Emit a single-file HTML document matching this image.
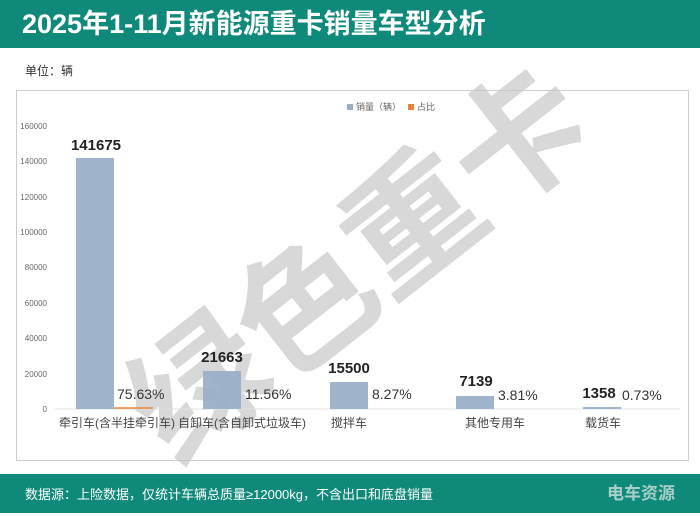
<!DOCTYPE html>
<html><head><meta charset="utf-8"><style>
body{margin:0;width:700px;height:513px;position:relative;background:#fff;font-family:"Liberation Sans","Noto Sans CJK SC",sans-serif;overflow:hidden}
.hdr{position:absolute;left:0;top:0;width:700px;height:48px;background:#0f8a7a;color:#fff;font-weight:bold;font-size:27px;line-height:48px;padding-left:22px;box-sizing:border-box}
.ftr{position:absolute;left:0;top:474px;width:700px;height:39px;background:#0f8a7a;color:#fff;font-size:13px;line-height:42px;padding-left:25px;box-sizing:border-box}
</style></head><body>
<div class="hdr">2025年1-11月新能源重卡销量车型分析</div>
<div style="position:absolute;left:25px;top:62px;font-size:12px;color:#333">单位：辆</div>
<div style="position:absolute;left:16px;top:90px;width:673px;height:371px;border:1px solid #ccc;box-sizing:border-box"></div>
<svg width="700" height="513" style="position:absolute;left:0;top:0" font-family="Liberation Sans,Noto Sans CJK SC,sans-serif">
<text x="358" y="312" font-size="135" font-weight="bold" fill="#c8c8c8" fill-opacity="0.7" text-anchor="middle" transform="rotate(-38 358 262)">绿色重卡</text>
<g fill="#666" font-size="8" text-anchor="end">
<text x="47" y="129">160000</text><text x="47" y="164">140000</text><text x="47" y="200">120000</text><text x="47" y="235">100000</text><text x="47" y="270">80000</text><text x="47" y="306">60000</text><text x="47" y="341">40000</text><text x="47" y="377">20000</text><text x="47" y="412">0</text>
</g>
<line x1="55" y1="409" x2="680" y2="409" stroke="#e0e0e0"/>
<g fill="#9ab0c7" fill-opacity="0.95">
<rect x="76" y="158" width="38" height="251"/>
<rect x="203" y="371" width="38" height="38"/>
<rect x="330" y="382" width="38" height="27"/>
<rect x="456" y="396" width="38" height="13"/>
<rect x="583" y="407" width="38" height="2"/>
</g>
<line x1="114" y1="408" x2="153" y2="408" stroke="#e8843c" stroke-width="1.5"/>
<g fill="#222" font-weight="bold" font-size="15" text-anchor="middle">
<text x="96" y="150">141675</text><text x="222" y="362">21663</text><text x="349" y="373">15500</text><text x="476" y="386">7139</text><text x="599" y="398">1358</text>
</g>
<g fill="#333" font-size="14">
<text x="117" y="399">75.63%</text><text x="245" y="399">11.56%</text><text x="372" y="399">8.27%</text><text x="498" y="400">3.81%</text><text x="622" y="400">0.73%</text>
</g>
<g fill="#444" font-size="12" text-anchor="middle">
<text x="117" y="427">牵引车(含半挂牵引车)</text><text x="242" y="427">自卸车(含自卸式垃圾车)</text><text x="349" y="427">搅拌车</text><text x="495" y="427">其他专用车</text><text x="603" y="427">载货车</text>
</g>
<rect x="347" y="104" width="6" height="6" fill="#9ab0c7"/><text x="356" y="110" font-size="9" fill="#666">销量（辆）</text>
<rect x="408" y="104" width="6" height="6" fill="#e8843c"/><text x="417" y="110" font-size="9" fill="#666">占比</text>
</svg>
<div class="ftr">数据源：上险数据，仅统计车辆总质量≥12000kg，不含出口和底盘销量<span style="position:absolute;left:607px;top:-1px;font-size:17px;font-weight:bold;color:#a9cfc9">电车资源</span></div>
</body></html>
